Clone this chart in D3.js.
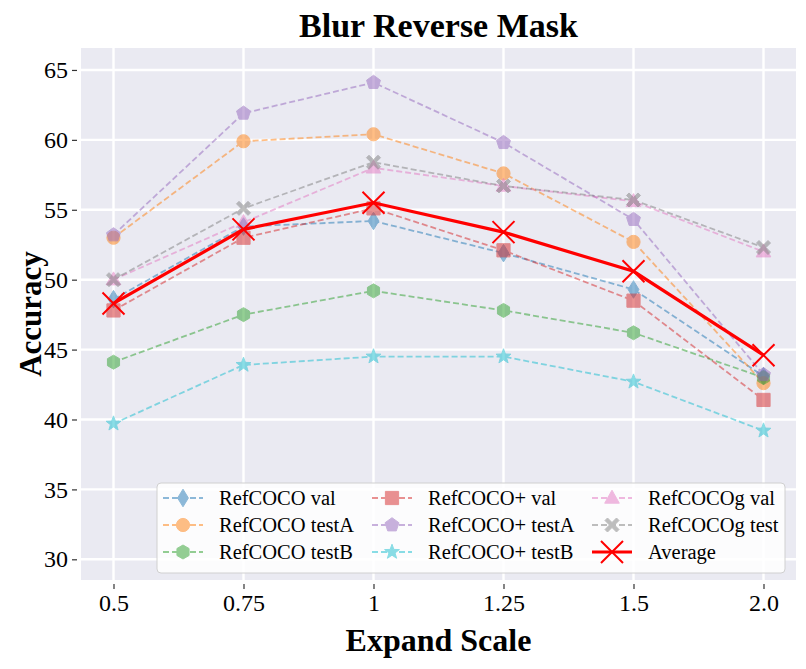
<!DOCTYPE html>
<html>
<head>
<meta charset="utf-8">
<script src="https://cdn.jsdelivr.net/npm/d3@7"></script>
<style>
body{margin:0;background:#fff;}
svg{display:block;}
text{font-family:"Liberation Serif","Times New Roman",serif;}
</style>
</head>
<body>
<svg id="chart" width="806" height="669"></svg>
<script>
const categories = ["0.5","0.75","1","1.25","1.5","2.0"];
const yTicks = [30,35,40,45,50,55,60,65];

const refcocoVal    = [48.6, 53.8, 54.2, 51.9, 49.3, 43.1];
const refcocoTestA  = [53.0, 59.9, 60.4, 57.6, 52.7, 42.6];
const refcocoTestB  = [44.1, 47.5, 49.2, 47.8, 46.2, 43.0];
const refcocoPVal   = [47.8, 53.0, 55.1, 52.1, 48.5, 41.4];
const refcocoPTestA = [53.2, 61.9, 64.1, 59.8, 54.3, 43.2];
const refcocoPTestB = [39.7, 43.9, 44.5, 44.5, 42.7, 39.2];
const refcocogVal   = [50.0, 54.1, 58.0, 56.7, 55.6, 52.0];
const refcocogTest  = [50.0, 55.1, 58.4, 56.7, 55.7, 52.3];
const average       = [48.3, 53.6, 55.5, 53.4, 50.6, 44.6];

const seriesNames = ["RefCOCO val","RefCOCO testA","RefCOCO testB","RefCOCO+ val","RefCOCO+ testA","RefCOCO+ testB","RefCOCOg val","RefCOCOg test","Average"];
const seriesValues = [refcocoVal,refcocoTestA,refcocoTestB,refcocoPVal,refcocoPTestA,refcocoPTestB,refcocogVal,refcocogTest,average];
const seriesColors = ["#1f77b4","#ff7f0e","#2ca02c","#d62728","#9467bd","#17becf","#e377c2","#7f7f7f","#ff0000"];
const seriesMarkers = ["thin_diamond","circle","hexagon","square","pentagon","star","triangle","filledX","x"];

const svg = d3.select("#chart");
const L = 81, R = 796, T = 48, B = 580;

const x = d3.scaleLinear().domain([-0.25, categories.length - 0.75]).range([L, R]);
const y = d3.scaleLinear().domain([28.52, 66.57]).range([B, T]);

// background
svg.append("rect").attr("x", L).attr("y", T).attr("width", R - L).attr("height", B - T).attr("fill", "#eaeaf2");

// grid
const g = svg.append("g");
g.selectAll(".hg").data(yTicks).enter().append("line")
  .attr("x1", L).attr("x2", R).attr("y1", d => y(d)).attr("y2", d => y(d))
  .attr("stroke", "#fff").attr("stroke-width", 2.4);
g.selectAll(".vg").data(categories).enter().append("line")
  .attr("y1", T).attr("y2", B).attr("x1", (d, i) => x(i)).attr("x2", (d, i) => x(i))
  .attr("stroke", "#fff").attr("stroke-width", 2.4);

// axes
const yAxis = d3.axisLeft(y).tickValues(yTicks).tickSize(5).tickPadding(4);
const ya = svg.append("g").attr("transform", `translate(${L - 4},0)`).call(yAxis);
ya.select(".domain").remove();
ya.selectAll("line").attr("stroke", "#333").attr("stroke-width", 1.2);
ya.selectAll("text").attr("font-size", 24).attr("fill", "#000").attr("font-family", "Liberation Serif");

const xAxis = d3.axisBottom(x).tickValues(d3.range(categories.length)).tickFormat(i => categories[i]).tickSize(5).tickPadding(5);
const xa = svg.append("g").attr("transform", `translate(0,${B + 4})`).call(xAxis);
xa.select(".domain").remove();
xa.selectAll("line").attr("stroke", "#333").attr("stroke-width", 1.2);
xa.selectAll("text").attr("font-size", 24).attr("fill", "#000").attr("font-family", "Liberation Serif");

// markers
function markerPath(type) {
  const p = d3.path();
  const poly = (n, r, rot) => {
    for (let k = 0; k < n; k++) {
      const a = rot + k * 2 * Math.PI / n;
      const px = r * Math.sin(a), py = -r * Math.cos(a);
      if (k === 0) p.moveTo(px, py); else p.lineTo(px, py);
    }
    p.closePath();
  };
  switch (type) {
    case "thin_diamond":
      p.moveTo(0, -8.8); p.lineTo(5.4, 0); p.lineTo(0, 8.8); p.lineTo(-5.4, 0); p.closePath(); break;
    case "circle":
      p.arc(0, 0, 6.6, 0, 2 * Math.PI); break;
    case "hexagon":
      poly(6, 7, 0); break;
    case "square":
      p.rect(-6.6, -6.6, 13.2, 13.2); break;
    case "pentagon":
      poly(5, 7.3, 0); break;
    case "star": {
      for (let k = 0; k < 10; k++) {
        const r = k % 2 === 0 ? 7.8 : 3.2;
        const a = k * Math.PI / 5;
        const px = r * Math.sin(a), py = -r * Math.cos(a);
        if (k === 0) p.moveTo(px, py); else p.lineTo(px, py);
      }
      p.closePath(); break;
    }
    case "triangle":
      p.moveTo(0, -7.8); p.lineTo(7.3, 5.2); p.lineTo(-7.3, 5.2); p.closePath(); break;
    case "filledX": {
      const a = 7, w = 2.5;
      const pts = [[-a + w, -a], [0, -w], [a - w, -a], [a, -a + w], [w, 0], [a, a - w], [a - w, a], [0, w], [-a + w, a], [-a, a - w], [-w, 0], [-a, -a + w]];
      pts.forEach((q, k) => k === 0 ? p.moveTo(q[0], q[1]) : p.lineTo(q[0], q[1]));
      p.closePath(); break;
    }
    case "x":
      p.moveTo(-11, -11); p.lineTo(11, 11); p.moveTo(11, -11); p.lineTo(-11, 11); break;
  }
  return p.toString();
}

const line = d3.line().x((d, i) => x(i)).y(d => y(d));

seriesValues.forEach((vals, si) => {
  const col = seriesColors[si];
  const isAvg = seriesMarkers[si] === "x";
  const grp = svg.append("g").attr("opacity", isAvg ? 1 : 0.5);
  grp.append("path").datum(vals).attr("d", line).attr("fill", "none")
    .attr("stroke", col).attr("stroke-width", isAvg ? 3.2 : 1.8)
    .attr("stroke-dasharray", isAvg ? null : "6,3");
  grp.selectAll(".m").data(vals).enter().append("path")
    .attr("transform", (d, i) => `translate(${x(i)},${y(d)})`)
    .attr("d", markerPath(seriesMarkers[si]))
    .attr("fill", isAvg ? "none" : col)
    .attr("stroke", col).attr("stroke-width", isAvg ? 2 : 1);
});

// legend
const lg = svg.append("g");
lg.append("rect").attr("x", 157).attr("y", 483).attr("width", 628).attr("height", 90)
  .attr("rx", 4).attr("fill", "#fff").attr("fill-opacity", 0.85).attr("stroke", "#d0d0d0").attr("stroke-width", 1);
const colX = [163, 372, 592];
const rowY = [498, 525, 552];
seriesNames.forEach((name, si) => {
  const c = Math.floor(si / 3), r = si % 3;
  const lx = colX[c], ly = rowY[r];
  const col = seriesColors[si];
  const isAvg = seriesMarkers[si] === "x";
  const item = lg.append("g").attr("opacity", isAvg ? 1 : 0.5);
  item.append("line").attr("x1", lx).attr("x2", lx + 40).attr("y1", ly).attr("y2", ly)
    .attr("stroke", col).attr("stroke-width", isAvg ? 3.2 : 1.8)
    .attr("stroke-dasharray", isAvg ? null : "6,3");
  item.append("path").attr("transform", `translate(${lx + 20},${ly})`)
    .attr("d", markerPath(seriesMarkers[si]))
    .attr("fill", isAvg ? "none" : col).attr("stroke", col).attr("stroke-width", isAvg ? 2 : 1);
  lg.append("text").attr("x", lx + 56).attr("y", ly + 7).attr("font-size", 20.5).attr("fill", "#000").text(name);
});

// titles
svg.append("text").attr("x", (L + R) / 2).attr("y", 37).attr("text-anchor", "middle")
  .attr("font-size", 34).attr("font-weight", "bold").attr("fill", "#000").text("Blur Reverse Mask");
svg.append("text").attr("x", (L + R) / 2).attr("y", 651).attr("text-anchor", "middle")
  .attr("font-size", 32).attr("font-weight", "bold").attr("fill", "#000").text("Expand Scale");
svg.append("text").attr("transform", `translate(41,${(T + B) / 2}) rotate(-90)`).attr("text-anchor", "middle")
  .attr("font-size", 31).attr("font-weight", "bold").attr("fill", "#000").text("Accuracy");
</script>
</body>
</html>
